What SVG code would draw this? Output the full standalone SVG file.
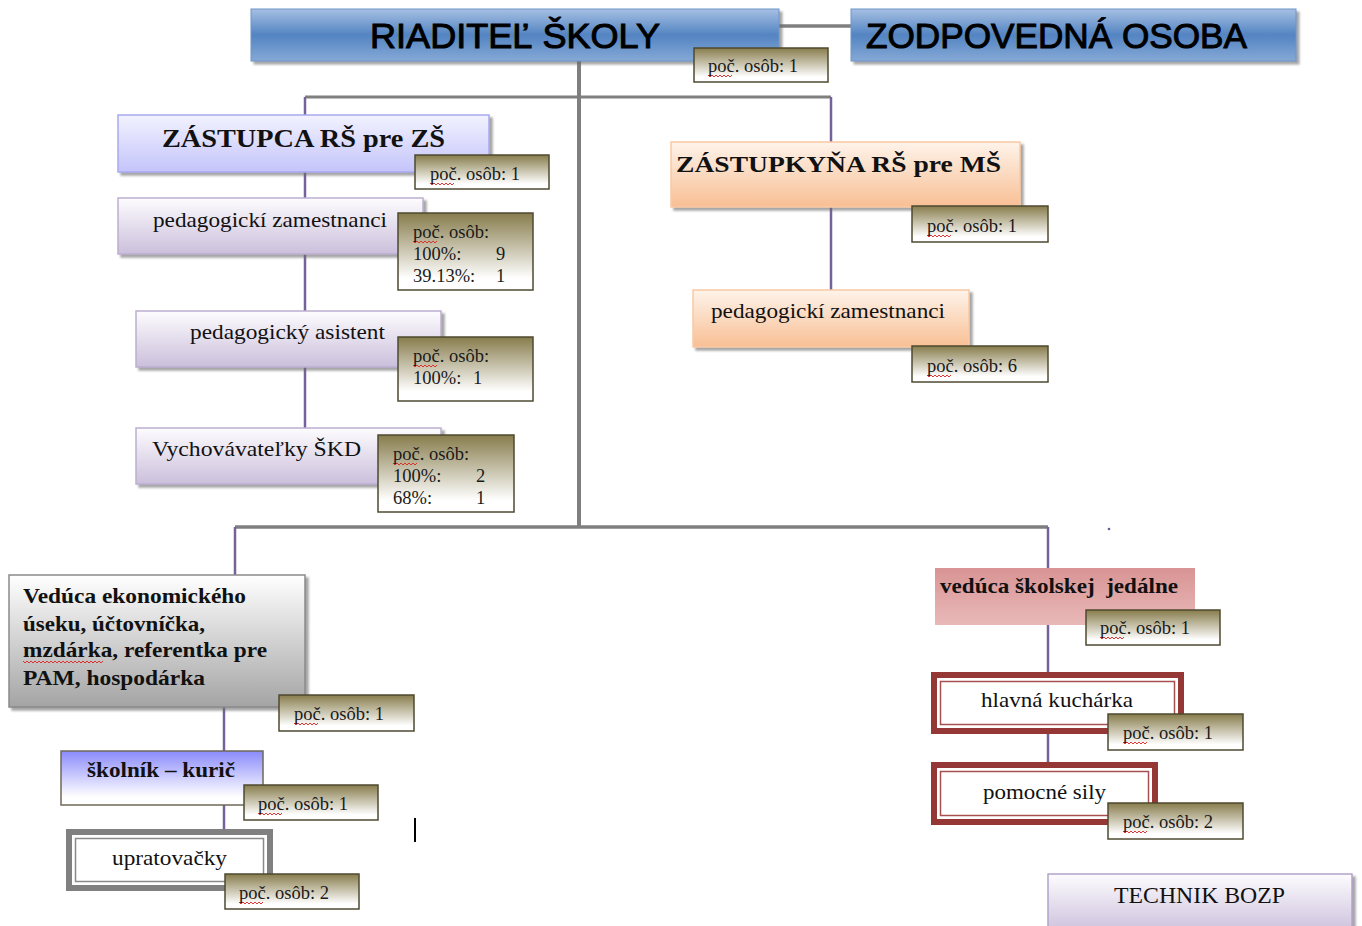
<svg xmlns="http://www.w3.org/2000/svg" width="1362" height="926" viewBox="0 0 1362 926">
<defs>
<linearGradient id="gBlue" x1="0" y1="0" x2="0" y2="1">
<stop offset="0" stop-color="#a6c0e3"/><stop offset="0.5" stop-color="#5384c2"/><stop offset="1" stop-color="#86a9d6"/>
</linearGradient>
<linearGradient id="gLav" x1="0" y1="0" x2="0" y2="1">
<stop offset="0" stop-color="#f2f2ff"/><stop offset="1" stop-color="#c4c4fb"/>
</linearGradient>
<linearGradient id="gPur" x1="0" y1="0" x2="0" y2="1">
<stop offset="0" stop-color="#fdfcfe"/><stop offset="1" stop-color="#cbbfdb"/>
</linearGradient>
<linearGradient id="gPeach" x1="0" y1="0" x2="0" y2="1">
<stop offset="0" stop-color="#fef3ea"/><stop offset="1" stop-color="#f8bf94"/>
</linearGradient>
<linearGradient id="gGray" x1="0" y1="0" x2="0" y2="1">
<stop offset="0" stop-color="#ffffff"/><stop offset="1" stop-color="#a4a4a4"/>
</linearGradient>
<linearGradient id="gBlueW" x1="0" y1="0" x2="0" y2="1">
<stop offset="0" stop-color="#8a8afc"/><stop offset="0.85" stop-color="#ffffff"/>
</linearGradient>
<linearGradient id="gRose" x1="0" y1="0" x2="0" y2="1">
<stop offset="0" stop-color="#d99494"/><stop offset="1" stop-color="#e8b9b8"/>
</linearGradient>
<linearGradient id="gLbl" x1="0" y1="0" x2="0" y2="1">
<stop offset="0" stop-color="#877c4c"/><stop offset="0.85" stop-color="#ffffff"/>
</linearGradient>
<filter id="sh" x="-10%" y="-10%" width="125%" height="140%">
<feDropShadow dx="3" dy="3" stdDeviation="1.2" flood-color="#6b6b6b" flood-opacity="0.6"/>
</filter>
<path id="sq" d="M0,0 l2,2 l2,-2 l2,2 l2,-2 l2,2 l2,-2 l2,2 l2,-2 l2,2 l2,-2 l2,2 l2,-2" fill="none" stroke="#e02020" stroke-width="0.9"/>
</defs>
<style>
.lbl{fill:url(#gLbl);stroke:#4e4a30;stroke-width:1.5}
.lt{font-family:"Liberation Serif","Times New Roman",serif;font-size:18.5px;fill:#1a1a1a}
.tm{font-family:"Liberation Serif","Times New Roman",serif;fill:#111}
.tb{font-family:"Liberation Serif","Times New Roman",serif;font-weight:bold;fill:#111}
.ta{font-family:"Liberation Sans",Arial,sans-serif;fill:#000;stroke:#000;stroke-width:1}
.gl{stroke:#7f7f7f;fill:none}
.pl{stroke:#76619a;fill:none;stroke-width:2.5}
</style>

<g id="connectors">
<line class="gl" x1="779" y1="26" x2="851" y2="26" stroke-width="3.5"/>
<line class="gl" x1="579" y1="61" x2="579" y2="527" stroke-width="4"/>
<line class="gl" x1="305" y1="97" x2="831" y2="97" stroke-width="3"/>
<line class="pl" x1="305" y1="97" x2="305" y2="115"/>
<line class="pl" x1="831" y1="97" x2="831" y2="142"/>
<line class="pl" x1="305" y1="172" x2="305" y2="198"/>
<line class="pl" x1="305" y1="254" x2="305" y2="311"/>
<line class="pl" x1="305" y1="367" x2="305" y2="428"/>
<line class="pl" x1="831" y1="207" x2="831" y2="290"/>
<line class="gl" x1="235" y1="527" x2="1048" y2="527" stroke-width="3.5"/>
<line class="pl" x1="235" y1="527" x2="235" y2="575"/>
<line class="pl" x1="1048" y1="527" x2="1048" y2="568"/>
<line class="pl" x1="224" y1="707" x2="224" y2="751"/>
<line class="pl" x1="224" y1="805" x2="224" y2="829"/>
<line class="pl" x1="1048" y1="625" x2="1048" y2="672"/>
<line class="pl" x1="1048" y1="734" x2="1048" y2="762"/>
</g>

<circle cx="1109" cy="529" r="1.3" fill="#6a5c8c"/>
<line x1="415" y1="818" x2="415" y2="842" stroke="#000" stroke-width="2"/>

<g id="riaditel">
<rect x="251" y="9" width="528" height="52" fill="url(#gBlue)" stroke="#6f94c8" stroke-width="1" filter="url(#sh)"/>
<text class="ta" x="370" y="48" font-size="35" textLength="290" lengthAdjust="spacingAndGlyphs">RIADITEĽ ŠKOLY</text>
</g>
<g id="zodpovedna">
<rect x="851" y="9" width="445" height="52" fill="url(#gBlue)" stroke="#6f94c8" stroke-width="1" filter="url(#sh)"/>
<text class="ta" x="866" y="48" font-size="35" textLength="381" lengthAdjust="spacingAndGlyphs">ZODPOVEDNÁ OSOBA</text>
</g>
<g id="lbl-riaditel">
<rect class="lbl" x="694" y="48" width="134" height="34"/>
<text class="lt" x="708" y="72">poč. osôb: 1</text>
<use href="#sq" x="708" y="75"/>
</g>

<g id="zastupca-zs">
<rect x="118" y="115" width="371" height="57" fill="url(#gLav)" stroke="#a9a9ef" stroke-width="1.5" filter="url(#sh)"/>
<text class="tb" x="162" y="147" font-size="25" textLength="283" lengthAdjust="spacingAndGlyphs">ZÁSTUPCA RŠ pre ZŠ</text>
</g>
<g id="lbl-zastupca-zs">
<rect class="lbl" x="415" y="155" width="134" height="34"/>
<text class="lt" x="430" y="180">poč. osôb: 1</text>
<use href="#sq" x="430" y="183"/>
</g>

<g id="ped-zam-zs">
<rect x="118" y="198" width="305" height="56" fill="url(#gPur)" stroke="#bcaed0" stroke-width="1.5" filter="url(#sh)"/>
<text class="tm" x="153" y="227" font-size="21" textLength="234" lengthAdjust="spacingAndGlyphs">pedagogickí zamestnanci</text>
</g>
<g id="lbl-ped-zam-zs">
<rect class="lbl" x="398" y="213" width="135" height="77"/>
<text class="lt" x="413" y="238">poč. osôb:</text>
<text class="lt" x="413" y="260">100%:</text><text class="lt" x="496" y="260">9</text>
<text class="lt" x="413" y="282">39.13%:</text><text class="lt" x="496" y="282">1</text>
<use href="#sq" x="413" y="241"/>
</g>

<g id="ped-asistent">
<rect x="136" y="311" width="305" height="56" fill="url(#gPur)" stroke="#bcaed0" stroke-width="1.5" filter="url(#sh)"/>
<text class="tm" x="190" y="339" font-size="21" textLength="195" lengthAdjust="spacingAndGlyphs">pedagogický asistent</text>
</g>
<g id="lbl-ped-asistent">
<rect class="lbl" x="398" y="337" width="135" height="64"/>
<text class="lt" x="413" y="362">poč. osôb:</text>
<text class="lt" x="413" y="384">100%:</text><text class="lt" x="473" y="384">1</text>
<use href="#sq" x="413" y="365"/>
</g>

<g id="vychovavatelky">
<rect x="136" y="428" width="305" height="56" fill="url(#gPur)" stroke="#bcaed0" stroke-width="1.5" filter="url(#sh)"/>
<text class="tm" x="152" y="456" font-size="22" textLength="209" lengthAdjust="spacingAndGlyphs">Vychovávateľky ŠKD</text>
</g>
<g id="lbl-vychovavatelky">
<rect class="lbl" x="378" y="435" width="136" height="77"/>
<text class="lt" x="393" y="460">poč. osôb:</text>
<text class="lt" x="393" y="482">100%:</text><text class="lt" x="476" y="482">2</text>
<text class="lt" x="393" y="504">68%:</text><text class="lt" x="476" y="504">1</text>
<use href="#sq" x="393" y="463"/>
</g>

<g id="zastupkyna-ms">
<rect x="671" y="142" width="349" height="65" fill="url(#gPeach)" stroke="#f9c9a4" stroke-width="1.5" filter="url(#sh)"/>
<text class="tb" x="676" y="172" font-size="24" textLength="325" lengthAdjust="spacingAndGlyphs">ZÁSTUPKYŇA RŠ pre MŠ</text>
</g>
<g id="lbl-zastupkyna-ms">
<rect class="lbl" x="912" y="206" width="136" height="36"/>
<text class="lt" x="927" y="232">poč. osôb: 1</text>
<use href="#sq" x="927" y="235"/>
</g>

<g id="ped-zam-ms">
<rect x="693" y="290" width="276" height="57" fill="url(#gPeach)" stroke="#f9c9a4" stroke-width="1.5" filter="url(#sh)"/>
<text class="tm" x="711" y="318" font-size="21" textLength="234" lengthAdjust="spacingAndGlyphs">pedagogickí zamestnanci</text>
</g>
<g id="lbl-ped-zam-ms">
<rect class="lbl" x="912" y="346" width="136" height="36"/>
<text class="lt" x="927" y="372">poč. osôb: 6</text>
<use href="#sq" x="927" y="375"/>
</g>

<g id="ekonom">
<rect x="9" y="575" width="296" height="132" fill="url(#gGray)" stroke="#8a8a8a" stroke-width="1.5" filter="url(#sh)"/>
<text class="tb" font-size="21">
<tspan x="23" y="603" textLength="223" lengthAdjust="spacingAndGlyphs">Vedúca ekonomického</tspan>
<tspan x="23" y="631" textLength="182" lengthAdjust="spacingAndGlyphs">úseku, účtovníčka,</tspan>
<tspan x="23" y="657" textLength="244" lengthAdjust="spacingAndGlyphs">mzdárka, referentka pre</tspan>
<tspan x="23" y="685" textLength="182" lengthAdjust="spacingAndGlyphs">PAM, hospodárka</tspan>
</text>
<use href="#sq" x="23" y="661"/><use href="#sq" x="47" y="661"/><use href="#sq" x="71" y="661"/><use href="#sq" x="79" y="661"/>
</g>
<g id="lbl-ekonom">
<rect class="lbl" x="279" y="695" width="135" height="36"/>
<text class="lt" x="294" y="720">poč. osôb: 1</text>
<use href="#sq" x="294" y="723"/>
</g>

<g id="skolnik">
<rect x="61" y="751" width="202" height="54" fill="url(#gBlueW)" stroke="#6e6a58" stroke-width="1.5"/>
<text class="tb" x="87" y="777" font-size="21" textLength="148" lengthAdjust="spacingAndGlyphs">školník – kurič</text>
</g>
<g id="lbl-skolnik">
<rect class="lbl" x="244" y="785" width="134" height="35"/>
<text class="lt" x="258" y="810">poč. osôb: 1</text>
<use href="#sq" x="258" y="813"/>
</g>

<g id="upratovacky">
<rect x="69" y="832" width="201" height="56" fill="#fff" stroke="#808080" stroke-width="6"/>
<rect x="75.5" y="838.5" width="188" height="43" fill="#fff" stroke="#8a8a8a" stroke-width="1.5"/>
<text class="tm" x="112" y="865" font-size="21" textLength="115" lengthAdjust="spacingAndGlyphs">upratovačky</text>
</g>
<g id="lbl-upratovacky">
<rect class="lbl" x="225" y="874" width="134" height="35"/>
<text class="lt" x="239" y="899">poč. osôb: 2</text>
<use href="#sq" x="239" y="902"/>
</g>

<g id="veduca-jedalne">
<rect x="935" y="568" width="260" height="57" fill="url(#gRose)"/>
<text class="tb" x="940" y="593" font-size="21" textLength="238" lengthAdjust="spacingAndGlyphs" style="white-space:pre">vedúca školskej  jedálne</text>
</g>
<g id="lbl-veduca-jedalne">
<rect class="lbl" x="1086" y="610" width="134" height="35"/>
<text class="lt" x="1100" y="634">poč. osôb: 1</text>
<use href="#sq" x="1100" y="637"/>
</g>

<g id="hlavna-kucharka">
<rect x="934" y="675" width="247" height="56" fill="#fff" stroke="#953735" stroke-width="6"/>
<rect x="940.5" y="681.5" width="234" height="43" fill="#fff" stroke="#a85050" stroke-width="1.5"/>
<text class="tm" x="981" y="707" font-size="21" textLength="152" lengthAdjust="spacingAndGlyphs">hlavná kuchárka</text>
</g>
<g id="lbl-hlavna-kucharka">
<rect class="lbl" x="1108" y="714" width="135" height="36"/>
<text class="lt" x="1123" y="739">poč. osôb: 1</text>
<use href="#sq" x="1123" y="742"/>
</g>

<g id="pomocne-sily">
<rect x="934" y="765" width="221" height="57" fill="#fff" stroke="#953735" stroke-width="6"/>
<rect x="940.5" y="771.5" width="208" height="44" fill="#fff" stroke="#a85050" stroke-width="1.5"/>
<text class="tm" x="983" y="799" font-size="21" textLength="123" lengthAdjust="spacingAndGlyphs">pomocné sily</text>
</g>
<g id="lbl-pomocne-sily">
<rect class="lbl" x="1108" y="803" width="135" height="36"/>
<text class="lt" x="1123" y="828">poč. osôb: 2</text>
<use href="#sq" x="1123" y="831"/>
</g>

<g id="technik-bozp">
<rect x="1048" y="874" width="304" height="60" fill="url(#gPur)" stroke="#b3a3cb" stroke-width="1.5" filter="url(#sh)"/>
<text class="tm" x="1114" y="903" font-size="23" textLength="171" lengthAdjust="spacingAndGlyphs">TECHNIK BOZP</text>
</g>
</svg>
